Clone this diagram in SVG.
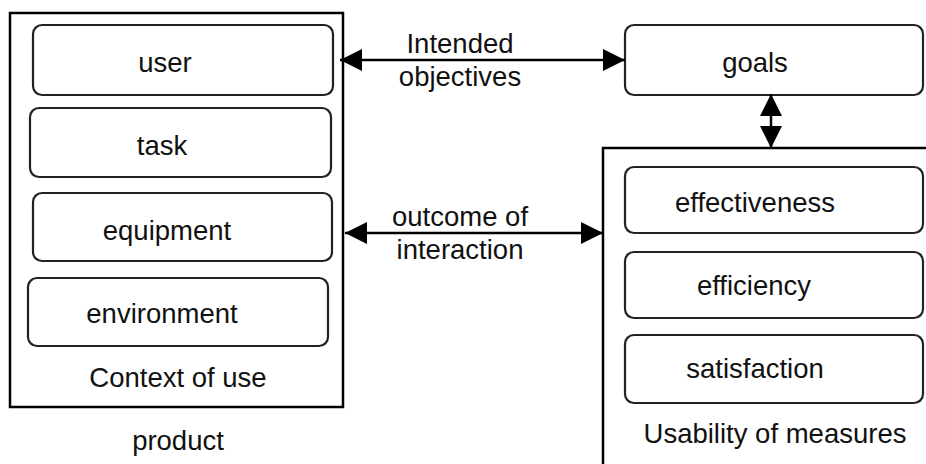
<svg xmlns="http://www.w3.org/2000/svg" width="926" height="464" viewBox="0 0 926 464">
<style>
.outer{fill:none;stroke:#000;stroke-width:2.5}
.item{fill:#fff;stroke:#222;stroke-width:2.2}
.t{font-family:"Liberation Sans",Arial,sans-serif;font-size:27.5px;fill:#111;text-anchor:middle}
.c{stroke:#000;stroke-width:2.5;fill:none}
</style>
<defs>
<marker id="ah" viewBox="0 0 20 20" refX="20" refY="10" markerWidth="22" markerHeight="22" markerUnits="userSpaceOnUse" orient="auto-start-reverse">
<path d="M0,0 L20,10 L0,20 Z" fill="#000"/>
</marker>
</defs>
<g id="context">
<rect class="outer" x="10" y="13" width="333" height="394"/>
<text class="t" x="178" y="387">Context of use</text>
</g>
<g id="user"><rect class="item" x="33" y="25" width="300" height="70" rx="9"/><text class="t" x="165" y="72">user</text></g>
<g id="task"><rect class="item" x="30" y="108" width="301" height="69" rx="9"/><text class="t" x="162" y="155">task</text></g>
<g id="equipment"><rect class="item" x="33" y="193" width="299" height="68" rx="9"/><text class="t" x="167" y="240">equipment</text></g>
<g id="environment"><rect class="item" x="28" y="278" width="300" height="68" rx="9"/><text class="t" x="162" y="323">environment</text></g>
<g id="product"><text class="t" x="178" y="450">product</text></g>
<g id="goals"><rect class="item" x="625" y="25" width="298" height="70" rx="9"/><text class="t" x="755" y="72">goals</text></g>
<g id="measures">
<rect class="outer" x="603" y="148" width="340" height="330"/>
<text class="t" x="775" y="443">Usability of measures</text>
</g>
<g id="effectiveness"><rect class="item" x="625" y="167" width="298" height="66" rx="9"/><text class="t" x="755" y="212">effectiveness</text></g>
<g id="efficiency"><rect class="item" x="625" y="252" width="298" height="66" rx="9"/><text class="t" x="754" y="295">efficiency</text></g>
<g id="satisfaction"><rect class="item" x="625" y="335" width="298" height="68" rx="9"/><text class="t" x="755" y="378">satisfaction</text></g>
<g id="connectors">
<line class="c" x1="340" y1="60" x2="625" y2="60" marker-start="url(#ah)" marker-end="url(#ah)"/>
<text class="t" x="460" y="53">Intended</text>
<text class="t" x="460" y="86">objectives</text>
<line class="c" x1="345" y1="233" x2="603" y2="233" marker-start="url(#ah)" marker-end="url(#ah)"/>
<text class="t" x="460" y="226">outcome of</text>
<text class="t" x="460" y="259">interaction</text>
<line class="c" x1="771" y1="94" x2="771" y2="148" marker-start="url(#ah)" marker-end="url(#ah)"/>
</g>
</svg>
